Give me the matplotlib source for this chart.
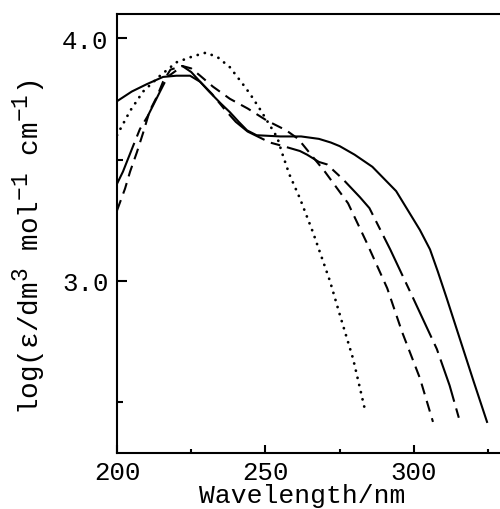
import matplotlib
matplotlib.use("Agg")
import matplotlib.pyplot as plt
import matplotlib._mathtext as mtext

# curve readings (wavelength / nm, log epsilon)
wl_solid = [200, 205, 210, 215.5, 220, 224.6, 228, 231, 235, 238, 241, 243.8, 247, 255, 262,
            268, 272, 275, 280, 286, 290, 294, 298, 302, 305.4, 308, 311, 315.5, 320, 324.6]
le_solid = [3.74, 3.78, 3.81, 3.84, 3.845, 3.845, 3.82, 3.78, 3.73, 3.695, 3.655, 3.62, 3.60, 3.595, 3.595,
            3.585, 3.57, 3.555, 3.52, 3.47, 3.42, 3.37, 3.29, 3.21, 3.13, 3.04, 2.93, 2.76, 2.59, 2.42]

wl_dot = [200, 204.4, 208.8, 214.5, 220, 225.6, 230, 234, 238, 242.4, 244.8, 248, 250.5, 254,
          255.5, 258, 261.6, 266, 271.7, 275.3, 279.5, 283.5]
le_dot = [3.60, 3.70, 3.78, 3.845, 3.90, 3.925, 3.94, 3.92, 3.88, 3.81, 3.77, 3.71, 3.66, 3.59,
          3.53, 3.44, 3.34, 3.20, 3.00, 2.85, 2.68, 2.47]

wl_dash = [200, 202.7, 204.4, 206.7, 208.8, 211, 213.5, 215.5, 218, 222, 225, 228, 232.3, 238,
           244, 250.5, 257, 261, 264, 270, 277.8, 284, 291, 296, 302, 306.4]
le_dash = [3.29, 3.38, 3.45, 3.53, 3.61, 3.70, 3.76, 3.82, 3.87, 3.885, 3.875, 3.845, 3.80, 3.75,
           3.71, 3.66, 3.62, 3.585, 3.54, 3.45, 3.32, 3.16, 2.97, 2.79, 2.60, 2.42]

wl_dashdot = [200, 202, 205.4, 207.7, 210.4, 214.5, 217, 222, 225, 228, 232, 236, 240, 244,
              251.5, 256, 261.6, 264, 268, 270.7, 276, 281.8, 285, 292, 299.7, 307.7, 312, 315.5]
le_dashdot = [3.40, 3.45, 3.555, 3.625, 3.68, 3.78, 3.84, 3.885, 3.86, 3.82, 3.77, 3.71, 3.655, 3.615,
              3.57, 3.555, 3.535, 3.52, 3.49, 3.48, 3.42, 3.345, 3.30, 3.13, 2.93, 2.72, 2.57, 2.42]

mono = "Liberation Mono"
plt.rcParams["font.family"] = [mono, "DejaVu Sans"]
plt.rcParams["mathtext.fontset"] = "custom"
plt.rcParams["mathtext.rm"] = mono
plt.rcParams["mathtext.it"] = mono
plt.rcParams["lines.scale_dashes"] = False
# superscripts in the original are nearly full size
mtext.SHRINK_FACTOR = 0.82

fig = plt.figure(figsize=(5, 5.1), dpi=100)
ax = fig.add_axes([117 / 500, 56 / 510, 392 / 500, 439 / 510])

ax.plot(wl_solid, le_solid, color="black", lw=1.5, solid_joinstyle="round")
ax.plot(wl_dot, le_dot, color="black", lw=2.0, linestyle=(0, (0.1, 5.2)), dash_capstyle="round")
ax.plot(wl_dash, le_dash, color="black", lw=1.5, linestyle=(0, (8, 5)))
ax.plot(wl_dashdot, le_dashdot, color="black", lw=1.5, linestyle=(0, (32, 5, 7, 5)))

ax.set_xlim(200, 332)
ax.set_ylim(2.292, 4.099)
ax.set_xticks([200, 250, 300])
ax.set_xticks([225, 275, 325], minor=True)
ax.set_yticks([3.0, 4.0])
ax.set_yticklabels(["3.0", "4.0"])
ax.set_yticks([2.5, 3.5], minor=True)

for s in ax.spines.values():
    s.set_linewidth(1.5)
ax.spines["right"].set_visible(False)

ax.tick_params(axis="y", which="major", direction="in", length=7.5, width=1.5, labelsize=18.5, pad=6)
ax.tick_params(axis="y", which="minor", direction="in", length=4.5, width=1.5)
ax.tick_params(axis="x", which="major", direction="in", length=5.5, width=1.5, labelsize=18.5, pad=5)
ax.tick_params(axis="x", which="minor", direction="in", length=3, width=1.5)

ax.set_xlabel("Wavelength/nm", fontsize=19)
ax.xaxis.set_label_coords(0.472, -0.068)
ax.set_ylabel(r"log($\epsilon$/dm$^{3}$ mol$^{-1}$ cm$^{-1}$)", fontsize=20)
ax.yaxis.set_label_coords(-0.175, 0.47)

fig.savefig("out.png", dpi=100)
